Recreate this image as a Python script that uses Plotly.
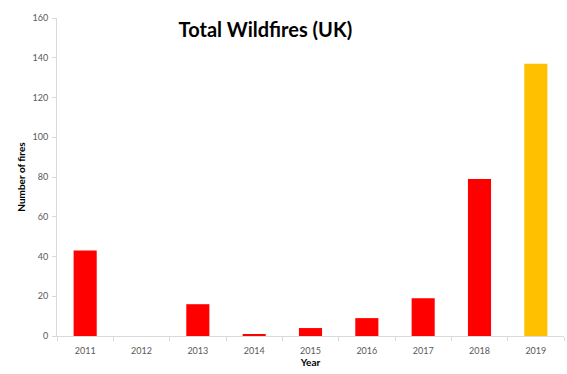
import plotly.graph_objects as go

years = ["2011", "2012", "2013", "2014", "2015", "2016", "2017", "2018", "2019"]
fires = [43, 0, 16, 1, 4, 9, 19, 79, 137]
colors = ["#FF0000"] * 8 + ["#FFC000"]
y_ticks = [0, 20, 40, 60, 80, 100, 120, 140, 160]

fig = go.Figure(go.Bar(x=years, y=fires, marker=dict(color=colors, line=dict(width=0))))

fig.update_layout(
    width=567, height=374,
    margin=dict(l=57, r=3, t=18, b=38),
    paper_bgcolor="white", plot_bgcolor="white",
    bargap=0.59,
    showlegend=False,
    font=dict(family="Lato, Carlito, sans-serif", color="#595959", size=9),
    title=dict(text="<b>Total Wildfires (UK)</b>", x=0.468, xanchor="center",
               y=0.92, yanchor="middle",
               font=dict(size=20, color="#000000", family="Lato, sans-serif")),
)
fig.update_xaxes(
    type="category", showline=True, linecolor="#D9D9D9", linewidth=1,
    ticks="outside", tickson="boundaries", ticklen=4, tickcolor="#D9D9D9",
    ticklabelstandoff=6,
    showgrid=False,
    title=dict(text="<b>Year</b>", font=dict(size=10, color="#000000"), standoff=4),
    tickfont=dict(size=9, color="#595959"),
)
fig.update_yaxes(
    range=[0, 160], tickvals=y_ticks, showline=True, linecolor="#D9D9D9", linewidth=1,
    ticks="outside", ticklen=4, tickcolor="#D9D9D9", showgrid=False, zeroline=False,
    ticklabelstandoff=2,
    title=dict(text="<b>Number of fires</b>", font=dict(size=10, color="#000000"), standoff=5),
    tickfont=dict(size=9, color="#595959"),
)

fig.write_html("out.html")
